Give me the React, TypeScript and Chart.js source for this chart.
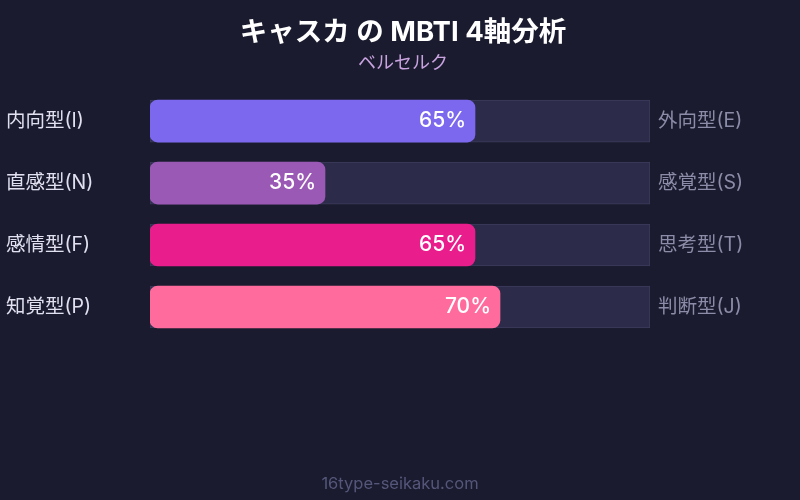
import { Chart, registerables } from 'chart.js';
import React, { useEffect, useRef } from 'react';

Chart.register(...registerables);

const leftLabels = ['内向型(I)', '直感型(N)', '感情型(F)', '知覚型(P)'];
const rightLabels = ['外向型(E)', '感覚型(S)', '思考型(T)', '判断型(J)'];
const scores = [65, 35, 65, 70];
const trackValues = [100, 100, 100, 100];
const barColors = ['#7b68ee', '#9b59b6', '#e91e8c', '#ff6b9d'];

const BG = '#1a1b2e';
const FONT = "Inter, 'Noto Sans CJK JP', sans-serif";

const App = () => {
  const canvasRef = useRef<HTMLCanvasElement>(null);

  useEffect(() => {
    if (!canvasRef.current) return;

    // fills the background and writes the value + footer text
    const decor = {
      id: 'decor',
      beforeDraw: (chart: any) => {
        const ctx = chart.ctx;
        ctx.save();
        ctx.fillStyle = BG;
        ctx.fillRect(0, 0, chart.width, chart.height);
        ctx.restore();
      },
      afterDatasetsDraw: (chart: any) => {
        const ctx = chart.ctx;
        const meta = chart.getDatasetMeta(1);
        ctx.save();
        ctx.font = `500 21px ${FONT}`;
        ctx.fillStyle = '#ffffff';
        ctx.textAlign = 'right';
        ctx.textBaseline = 'middle';
        meta.data.forEach((bar: any, i: number) => {
          ctx.fillText(`${scores[i]}%`, bar.x - 9, bar.y);
        });
        ctx.restore();
      },
      afterDraw: (chart: any) => {
        const ctx = chart.ctx;
        ctx.save();
        ctx.font = `16.5px ${FONT}`;
        ctx.fillStyle = '#55577a';
        ctx.textAlign = 'center';
        ctx.textBaseline = 'middle';
        ctx.fillText('16type-seikaku.com', chart.width / 2, 484);
        ctx.restore();
      },
    };

    const chart = new Chart(canvasRef.current, {
      type: 'bar',
      data: {
        labels: leftLabels,
        datasets: [
          {
            data: trackValues,
            backgroundColor: '#2d2b4a',
            borderColor: '#3e3c5e',
            borderWidth: 1,
            borderSkipped: false,
            grouped: false,
            barThickness: 42,
            order: 2,
          },
          {
            data: scores,
            backgroundColor: barColors,
            borderRadius: 8,
            borderSkipped: false,
            grouped: false,
            barThickness: 42,
            order: 1,
          },
        ],
      },
      options: {
        indexAxis: 'y',
        animation: false,
        responsive: false,
        layout: { padding: { left: 6, right: 0, top: 0, bottom: 162 } },
        plugins: {
          legend: { display: false },
          tooltip: { enabled: false },
          title: {
            display: true,
            text: 'キャスカ の MBTI 4軸分析',
            color: '#ffffff',
            font: { family: FONT, size: 27.5, weight: 'bold' },
            padding: { top: 16, bottom: 4 },
          },
          subtitle: {
            display: true,
            text: 'ベルセルク',
            color: '#c9a3e0',
            font: { family: FONT, size: 18 },
            padding: { top: 0, bottom: 15.5 },
          },
        },
        scales: {
          x: { min: 0, max: 100, display: false },
          y: {
            position: 'left',
            grid: { display: false },
            border: { display: false },
            ticks: {
              crossAlign: 'far',
              color: '#e0e0f0',
              font: { family: FONT, size: 19.5 },
            },
            afterFit: (scale: any) => {
              scale.width = 144;
            },
          },
          y2: {
            type: 'category',
            labels: rightLabels,
            position: 'right',
            offset: true,
            grid: { display: false },
            border: { display: false },
            ticks: {
              crossAlign: 'near',
              padding: 0,
              color: '#8c8ca8',
              font: { family: FONT, size: 19.5 },
            },
            afterFit: (scale: any) => {
              scale.width = 150;
            },
          },
        },
      },
      plugins: [decor],
    } as any);

    return () => {
      chart.destroy();
    };
  }, []);

  return (
    <div style={{ position: 'fixed', left: 0, top: 0, width: 800, height: 500, background: BG }}>
      <canvas ref={canvasRef} width={800} height={500} style={{ width: 800, height: 500 }}></canvas>
    </div>
  );
};

export default App;
